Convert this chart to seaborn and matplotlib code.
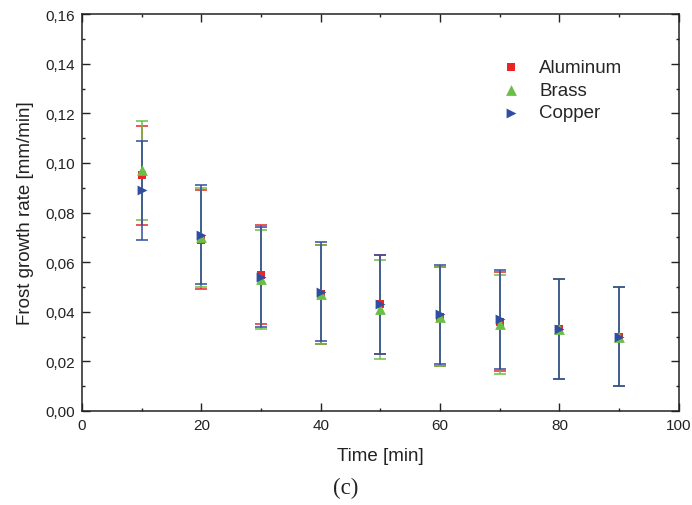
import matplotlib
matplotlib.use("Agg")
import matplotlib.pyplot as plt
import seaborn as sns
import pandas as pd
from matplotlib.ticker import FuncFormatter, MultipleLocator

time = [10, 20, 30, 40, 50, 60, 70, 80, 90]
aluminum = [0.095, 0.069, 0.055, 0.047, 0.043, 0.038, 0.036, 0.033, 0.030]
brass = [0.097, 0.070, 0.053, 0.047, 0.041, 0.038, 0.035, 0.033, 0.030]
copper = [0.089, 0.071, 0.054, 0.048, 0.043, 0.039, 0.037, 0.033, 0.030]
err_aluminum = [0.020, 0.020, 0.020, 0.020, 0.020, 0.020, 0.020, 0.020, 0.020]
err_brass = [0.020, 0.020, 0.020, 0.020, 0.020, 0.020, 0.020, 0.020, 0.020]
err_copper = [0.020, 0.020, 0.020, 0.020, 0.020, 0.020, 0.020, 0.020, 0.020]
series_names = ["Aluminum", "Brass", "Copper"]

sns.set_theme(style="ticks")
plt.rcParams['font.family'] = ['Liberation Sans', 'DejaVu Sans']

rows = []
for name, vals, errs in zip(series_names, [aluminum, brass, copper], [err_aluminum, err_brass, err_copper]):
    for t, v, e in zip(time, vals, errs):
        rows.append({"Time": t, "Rate": v, "Err": e, "Material": name})
df = pd.DataFrame(rows)

colors = {"Aluminum": "#E8262A", "Brass": "#6CBF46", "Copper": "#2F4EA2"}
markers = {"Aluminum": "s", "Brass": "^", "Copper": ">"}
sizes = {"Aluminum": 36, "Brass": 60, "Copper": 50}

fig = plt.figure(figsize=(6.92, 5.06), dpi=100)
ax = fig.add_axes([0.1185, 0.186, 0.8625, 0.784])

for name in series_names:
    sub = df[df.Material == name]
    ax.errorbar(sub.Time, sub.Rate, yerr=sub.Err, fmt="none", ecolor=colors[name],
                elinewidth=1.1, capsize=4, capthick=1.1, zorder=2)

for name in series_names:
    sub = df[df.Material == name]
    sns.scatterplot(data=sub, x="Time", y="Rate", color=colors[name], marker=markers[name],
                    s=sizes[name], linewidth=0, ax=ax, label=name, zorder=3)

ax.set_xlim(0, 100)
ax.set_ylim(0, 0.16)
ax.xaxis.set_major_locator(MultipleLocator(20))
ax.xaxis.set_minor_locator(MultipleLocator(10))
ax.yaxis.set_major_locator(MultipleLocator(0.02))
ax.yaxis.set_minor_locator(MultipleLocator(0.01))
ax.yaxis.set_major_formatter(FuncFormatter(lambda v, p: f"{v:.2f}".replace(".", ",")))
ax.tick_params(which="both", direction="in", top=True, right=True, colors="#222222",
               labelsize=11, width=1)
ax.tick_params(which="major", length=5.5, pad=5)
ax.tick_params(which="minor", length=2.5)
for s in ax.spines.values():
    s.set_linewidth(1.1)
    s.set_color("#222222")

ax.set_xlabel("Time [min]", fontsize=13.5, color="#222222", labelpad=11)
ax.set_ylabel("Frost growth rate [mm/min]", fontsize=13.5, color="#222222", labelpad=8)

leg = ax.legend(loc="upper left", bbox_to_anchor=(0.672, 0.93), frameon=False,
                fontsize=13.5, handletextpad=0.9, labelspacing=0.3, markerscale=1.0,
                handlelength=1.2)

fig.text(0.5, 1 - 488 / 506, "(c)", ha="center", va="center", fontsize=16.5,
         family=["Liberation Serif", "DejaVu Serif"], color="#222222")

fig.savefig("out.png", dpi=100)
